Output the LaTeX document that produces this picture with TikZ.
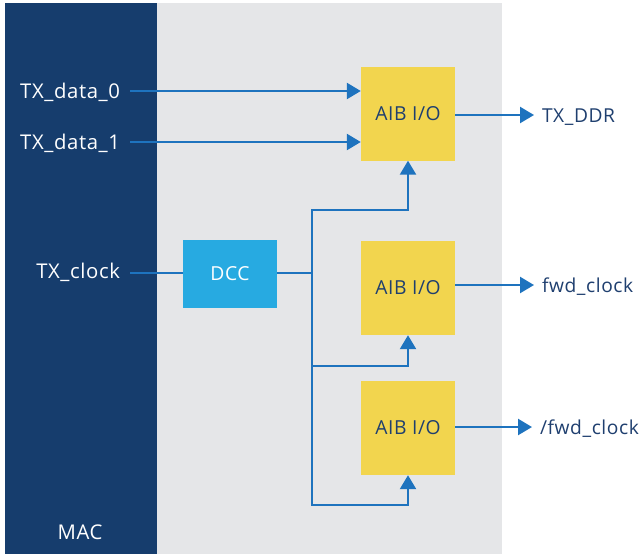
\documentclass[tikz,border=0pt]{standalone}
\usepackage{fontspec}
\setmainfont{Open Sans}[LetterSpace=3]
\usetikzlibrary{arrows.meta}
\definecolor{macblue}{HTML}{163D6D}
\definecolor{panelgray}{HTML}{E5E6E8}
\definecolor{aibyellow}{HTML}{F2D54E}
\definecolor{dccblue}{HTML}{27AAE1}
\definecolor{wire}{HTML}{1E73BE}
\definecolor{labtext}{HTML}{1F3F6F}
\tikzset{
  wirestyle/.style={draw=wire, line width=2.4pt},
  arr/.style={wirestyle, -{Triangle[length=14pt,width=16pt]}},
  aib/.style={fill=aibyellow, minimum width=94pt, minimum height=94pt, inner sep=0pt, text=labtext, font=\fontsize{19.3}{22}\selectfont},
  dccbox/.style={fill=dccblue, minimum width=94pt, minimum height=68pt, inner sep=0pt, text=white, font=\fontsize{19.3}{22}\selectfont},
  inlab/.style={text=white, inner sep=0pt, outer xsep=10pt, text height=14pt, text depth=0pt, anchor=east, font=\fontsize{20.3}{23}\selectfont},
  outlab/.style={text=labtext, inner sep=0pt, outer xsep=8pt, text height=14pt, text depth=0pt, anchor=west, font=\fontsize{19.2}{22}\selectfont}
}
\begin{document}
\begin{tikzpicture}[x=1pt, y=-1pt]
\useasboundingbox (0,0) rectangle (644,554);
\fill[white] (0,0) rectangle (644,554);
\fill[panelgray] (157,3) rectangle (502,554);
\fill[macblue] (5,3) rectangle (157,554);
\node[text=white, inner sep=0pt, text height=14pt, text depth=0pt, font=\fontsize{20.3}{23}\selectfont] (mac) at (80,532) {MAC};

\node[aib] (aib1) at (408,113.5) {AIB I/O};
\node[aib] (aib2) at (408,288) {AIB I/O};
\node[aib] (aib3) at (408,428) {AIB I/O};
\node[dccbox] (dcc) at (230,274) {DCC};

\node[inlab] (d0) at (130,91) {TX\_data\_0};
\node[inlab] (d1) at (130,142) {TX\_data\_1};
\node[inlab] (clk) at (130,271) {TX\_clock};

\node[outlab] (ddr) at (534,115) {TX\_DDR};
\node[outlab] (fwd) at (534,285) {fwd\_clock};
\node[outlab] (nfwd) at (532,427) {/fwd\_clock};

\coordinate (t) at (312,273);
\coordinate (b1) at (312,210);
\coordinate (b2) at (312,366);
\coordinate (b3) at (312,505);

\draw[arr] (d0.east) -- (aib1.west |- d0.east);
\draw[arr] (d1.east) -- (aib1.west |- d1.east);
\draw[wirestyle] (clk.east |- t) -- (dcc.west |- t);
\draw[wirestyle] (dcc.east |- t) -- (t);
\draw[arr] (t) -- (b1) -| (aib1.south);
\draw[arr] (t) -- (b2) -| (aib2.south);
\draw[arr] (b2) -- (b3) -| (aib3.south);

\draw[arr] (aib1.east |- ddr.west) -- (ddr.west);
\draw[arr] (aib2.east |- fwd.west) -- (fwd.west);
\draw[arr] (aib3.east |- nfwd.west) -- (nfwd.west);
\end{tikzpicture}
\end{document}
